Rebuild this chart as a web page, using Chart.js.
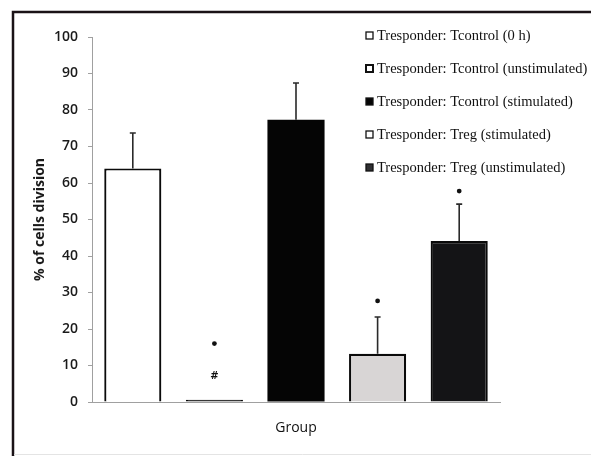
<!DOCTYPE html>
<html>
<head>
<meta charset="utf-8">
<script src="https://cdn.jsdelivr.net/npm/chart.js@4"></script>
<style>
  html, body { margin: 0; padding: 0; background: #fff; }
  #wrap { width: 591px; height: 456px; }
</style>
</head>
<body>
<div id="wrap"><canvas id="chart" width="591" height="456"></canvas></div>
<script>
// =========================
// Data
// =========================
const groups = [
    "Tresponder: Tcontrol (0 h)",
    "Tresponder: Tcontrol (unstimulated)",
    "Tresponder: Tcontrol (stimulated)",
    "Tresponder: Treg (stimulated)",
    "Tresponder: Treg (unstimulated)"
];
const meanValues = [64, 0.6, 77.3, 13.2, 44.1];
const errorValues = [9.7, 0, 10.1, 10.1, 10.1];
const starValues = [null, 16, null, 27.7, 57.8];
const hashValues = [null, 7, null, null, null];
const yTicks = [0, 10, 20, 30, 40, 50, 60, 70, 80, 90, 100];

const fills = ["#ffffff", "#111111", "#050505", "#d8d5d5", "#141416"];
const legendFills = ["#ffffff", "#ffffff", "#050505", "#ffffff", "#303033"];

// =========================
// Plugins
// =========================
const framePlugin = {
    id: "frame",
    beforeDraw(chart) {
        const ctx = chart.ctx;
        ctx.save();
        ctx.fillStyle = "#fff";
        ctx.fillRect(0, 0, chart.width, chart.height);
        ctx.strokeStyle = "#1a1216";
        ctx.lineWidth = 2.5;
        ctx.beginPath();
        ctx.moveTo(13, 456);
        ctx.lineTo(13, 12);
        ctx.lineTo(591, 12);
        ctx.stroke();
        ctx.strokeStyle = "#e4e4e4";
        ctx.lineWidth = 1;
        ctx.beginPath();
        ctx.moveTo(14, 454.5);
        ctx.lineTo(591, 454.5);
        ctx.stroke();
        ctx.restore();
    }
};

const marksPlugin = {
    id: "marks",
    afterDatasetsDraw(chart) {
        const ctx = chart.ctx;
        const y = chart.scales.y;
        ctx.save();
        chart.data.datasets.forEach((ds, i) => {
            const bar = chart.getDatasetMeta(i).data[0];
            const x = bar.x;
            const mean = meanValues[i];

            // error bar
            if (errorValues[i] > 0) {
                const top = y.getPixelForValue(mean + errorValues[i]);
                ctx.strokeStyle = "#2a2a2a";
                ctx.lineWidth = 1.6;
                ctx.beginPath();
                ctx.moveTo(x, y.getPixelForValue(mean));
                ctx.lineTo(x, top);
                ctx.moveTo(x - 3, top);
                ctx.lineTo(x + 3, top);
                ctx.stroke();
            }

            // significance marks
            if (starValues[i] !== null) {
                ctx.fillStyle = "#111";
                ctx.beginPath();
                ctx.arc(x, y.getPixelForValue(starValues[i]), 2.4, 0, Math.PI * 2);
                ctx.fill();
            }
            if (hashValues[i] !== null) {
                ctx.fillStyle = "#111";
                ctx.font = "bold 10px 'DejaVu Sans'";
                ctx.textAlign = "center";
                ctx.textBaseline = "middle";
                ctx.fillText("#", x, y.getPixelForValue(hashValues[i]));
            }
        });
        ctx.restore();
    }
};

const legendPlugin = {
    id: "sideLegend",
    afterDraw(chart) {
        const ctx = chart.ctx;
        ctx.save();
        ctx.font = "14.5px 'Liberation Serif'";
        ctx.textBaseline = "middle";
        ctx.textAlign = "left";
        chart.data.datasets.forEach((ds, i) => {
            const cy = 36 + i * 33;
            ctx.fillStyle = legendFills[i];
            ctx.fillRect(366, cy - 4, 7, 7);
            ctx.strokeStyle = "#111";
            ctx.lineWidth = i === 1 ? 2 : 1.3;
            ctx.strokeRect(366, cy - 4, 7, 7);
            ctx.fillStyle = "#111";
            ctx.fillText(ds.label, 377, cy);
        });
        ctx.restore();
    }
};

// =========================
// Chart
// =========================
const datasets = groups.map((g, i) => ({
    label: g,
    data: [meanValues[i]],
    backgroundColor: fills[i],
    borderColor: "#0a0a0a",
    borderWidth: i === 2 ? 0 : 2.2,
    categoryPercentage: 1,
    barPercentage: 0.7
}));

new Chart(document.getElementById("chart"), {
    type: "bar",
    data: {
        labels: ["Group"],
        datasets: datasets
    },
    options: {
        responsive: false,
        animation: false,
        layout: {
            padding: { top: 37, right: 91, bottom: 0, left: 14 }
        },
        plugins: {
            legend: { display: false },
            tooltip: { enabled: false }
        },
        scales: {
            x: {
                ticks: { display: false },
                grid: { display: false },
                border: { display: true, color: "#a0a0a0", dash: [4, 3], width: 1 },
                title: {
                    display: true,
                    text: "Group",
                    color: "#111",
                    font: { family: "'Open Sans'", size: 14 },
                    padding: { top: 0, bottom: 20 }
                },
                afterFit(scale) { scale.height = 54; }
            },
            y: {
                min: 0,
                max: 100,
                afterBuildTicks(scale) {
                    scale.ticks = yTicks.map(v => ({ value: v }));
                },
                ticks: {
                    color: "#1a1a1a",
                    font: { family: "'Open Sans'", size: 14, weight: "600" },
                    padding: 10
                },
                grid: {
                    drawOnChartArea: false,
                    drawTicks: true,
                    tickLength: 4,
                    tickColor: "#a0a0a0"
                },
                border: { display: true, color: "#a0a0a0", dash: [2, 3], width: 1 },
                title: {
                    display: true,
                    text: "% of cells division",
                    color: "#1a1a1a",
                    font: { family: "'Open Sans'", size: 14, weight: "bold" },
                    padding: { top: 18, bottom: 0 }
                },
                afterFit(scale) { scale.width = 78; }
            }
        }
    },
    plugins: [framePlugin, marksPlugin, legendPlugin]
});
</script>
</body>
</html>
